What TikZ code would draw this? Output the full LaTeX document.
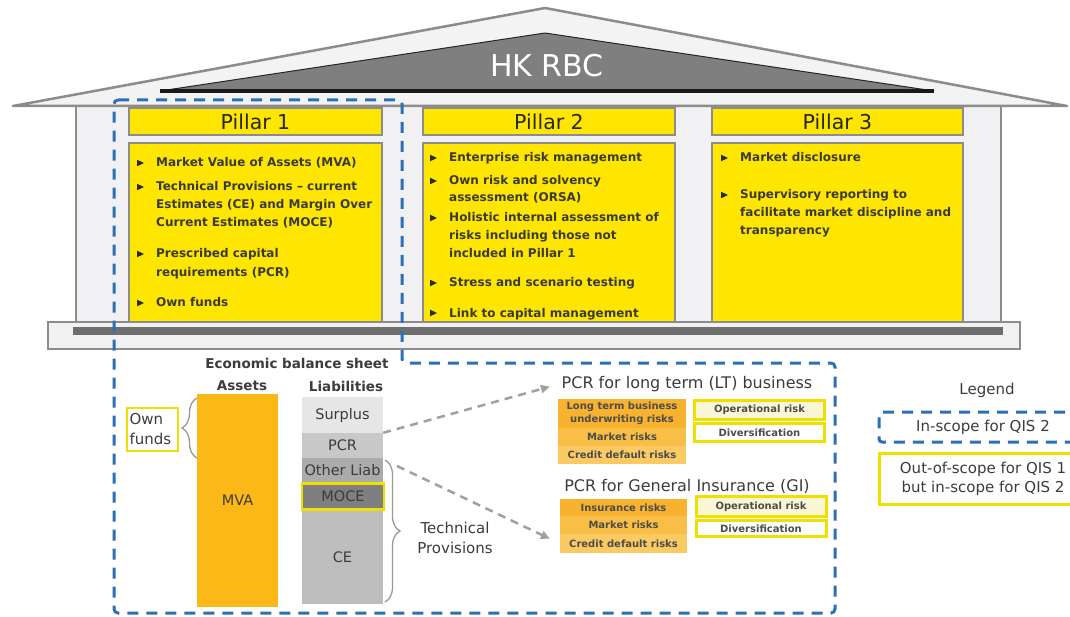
\documentclass[tikz,border=0pt]{standalone}
\usepackage{fontspec}
\setmainfont{DejaVu Sans}
\usetikzlibrary{decorations.pathreplacing,arrows.meta}
\definecolor{roofbg}{HTML}{F3F3F4}
\definecolor{edgegray}{HTML}{8C8C8C}
\definecolor{roofdark}{HTML}{7F7F7F}
\definecolor{bldg}{HTML}{F1F1F3}
\definecolor{bardark}{HTML}{6E6E6E}
\definecolor{eyyellow}{HTML}{FFE600}
\definecolor{ybord}{HTML}{F0E000}
\definecolor{bodytext}{HTML}{3A3A3A}
\definecolor{bulc}{HTML}{2A2A2A}
\definecolor{bluedash}{HTML}{2C6FB4}
\definecolor{mvaor}{HTML}{FBB817}
\definecolor{orA}{HTML}{F7B230}
\definecolor{orB}{HTML}{F9BE45}
\definecolor{orC}{HTML}{FBCA62}
\definecolor{cream}{HTML}{FBF7D6}
\definecolor{gSur}{HTML}{E6E6E6}
\definecolor{gPcr}{HTML}{C8C8C8}
\definecolor{gOth}{HTML}{ABABAB}
\definecolor{gMoce}{HTML}{7F7F7F}
\definecolor{gCe}{HTML}{BDBDBD}
\definecolor{arrgray}{HTML}{A0A0A0}
\definecolor{txtgray}{HTML}{3C3C3C}
\newcommand\pbul[2]{\fill[bulc] ({#1-3},{#2-3.3}) -- ({#1+4},{#2}) -- ({#1-3},{#2+3.3}) -- cycle;}
\tikzset{
  pbox/.style={draw=edgegray, line width=2.5pt, fill=eyyellow, inner sep=0pt},
  phead/.style={pbox, font=\fontsize{20.5}{22}\selectfont, text=black!85},
  ptxt/.style={anchor=base west, inner sep=0pt, font=\bfseries\fontsize{12}{14}\selectfont, text=bodytext},
  bstitle/.style={font=\bfseries\fontsize{13.5}{15}\selectfont, text=txtgray, inner sep=0pt},
  lblock/.style={inner sep=0pt, minimum width=81pt, font=\fontsize{14.5}{16}\selectfont, text=txtgray},
  obox/.style={inner sep=0pt, align=center, font=\bfseries\fontsize{10}{12.5}\selectfont, text=black!70},
  ybox/.style={draw=ybord, line width=3pt, inner sep=0pt, font=\bfseries\fontsize{10}{12}\selectfont, text=black!70},
  ttl/.style={font=\fontsize{16}{18}\selectfont, text=txtgray, inner sep=2pt},
  regtxt/.style={font=\fontsize{15}{20}\selectfont, text=txtgray, align=center, inner sep=0pt},
  bdash/.style={draw=bluedash, line width=3pt, dash pattern=on 11pt off 8pt},
  garrow/.style={draw=arrgray, line width=2.5pt, dash pattern=on 8pt off 6pt, -{Triangle[length=9pt,width=8pt]}},
  bracep/.style={draw=black!40, line width=1.3pt, decorate, decoration={brace, amplitude=15pt}}
}
\begin{document}
\begin{tikzpicture}[x=1pt,y=-1pt]
\useasboundingbox (0,0) rectangle (1070,617);
\clip (0,0) rectangle (1070,617);
\fill[white] (0,0) rectangle (1070,617);

% building body
\filldraw[fill=bldg, draw=edgegray, line width=2pt] (76,106) rectangle (1001,322);
% roof
\filldraw[fill=roofbg, draw=edgegray, line width=2.5pt, line join=round] (13,106) -- (545,8) -- (1067,106) -- cycle;
\fill[roofdark] (160,91) -- (545,33) -- (934,91) -- cycle;
\draw[black!85, line width=1pt, line join=round] (160,91) -- (545,33) -- (934,91);
\draw[black!90, line width=3.5pt] (160,91) -- (934,91);
\node[font=\fontsize{30}{30}\selectfont, text=white, inner sep=0pt] (title) at (547,66) {HK RBC};

% pillars
\node[phead, minimum width=253pt, minimum height=27pt] (h1) at (255.5,121.5) {Pillar 1};
\node[phead, minimum width=252pt, minimum height=27pt] (h2) at (549,121.5) {Pillar 2};
\node[phead, minimum width=251pt, minimum height=27pt] (h3) at (837.5,121.5) {Pillar 3};
\node[pbox, minimum width=253pt, minimum height=181pt] (b1) at (255.5,233.5) {};
\node[pbox, minimum width=252pt, minimum height=181pt] (b2) at (549,233.5) {};
\node[pbox, minimum width=251pt, minimum height=181pt] (b3) at (837.5,233.5) {};

% base
\filldraw[fill=bldg, draw=edgegray, line width=2.5pt] (48,322) rectangle (1020,349);
\fill[bardark] (73,327) rectangle (1003,335);

% pillar 1 text
\pbul{140}{163}\pbul{140}{187}\pbul{140}{254}\pbul{140}{303}
\node[ptxt] (p1a) at (156,167) {Market Value of Assets (MVA)};
\node[ptxt] (p1b) at (156,191) {Technical Provisions – current};
\node[ptxt] (p1c) at (156,208.5) {Estimates (CE) and Margin Over};
\node[ptxt] (p1d) at (156,226.5) {Current Estimates (MOCE)};
\node[ptxt] (p1e) at (156,258) {Prescribed capital};
\node[ptxt] (p1f) at (156,276.5) {requirements (PCR)};
\node[ptxt] (p1g) at (156,307) {Own funds};

% pillar 2 text
\pbul{433}{158}\pbul{433}{181}\pbul{433}{218}\pbul{433}{283}\pbul{433}{313}
\node[ptxt] (p2a) at (449,162) {Enterprise risk management};
\node[ptxt] (p2b) at (449,185) {Own risk and solvency};
\node[ptxt] (p2c) at (449,202) {assessment (ORSA)};
\node[ptxt] (p2d) at (449,222) {Holistic internal assessment of};
\node[ptxt] (p2e) at (449,240) {risks including those not};
\node[ptxt] (p2f) at (449,258) {included in Pillar 1};
\node[ptxt] (p2g) at (449,287) {Stress and scenario testing};
\node[ptxt] (p2h) at (449,317) {Link to capital management};

% pillar 3 text
\pbul{724}{158}\pbul{724}{195}
\node[ptxt] (p3a) at (740,162) {Market disclosure};
\node[ptxt] (p3b) at (740,199) {Supervisory reporting to};
\node[ptxt] (p3c) at (740,217) {facilitate market discipline and};
\node[ptxt] (p3d) at (740,234.5) {transparency};

% economic balance sheet
\node[bstitle] (ebs) at (297,363) {Economic balance sheet};
\node[bstitle] (assets) at (242,386) {Assets};
\node[bstitle] (liab) at (346,386) {Liabilities};
\node[lblock, fill=mvaor, minimum height=213pt] (mva) at (237.5,500.5) {MVA};
\node[lblock, fill=gSur, minimum height=36pt] (surplus) at (342.5,415) {Surplus};
\node[lblock, fill=gPcr, minimum height=25pt] (pcr) at (342.5,445.5) {PCR};
\node[lblock, fill=gOth, minimum height=25pt] (othl) at (342.5,470.5) {Other Liab};
\node[lblock, fill=gCe, minimum height=94pt] (ce) at (342.5,557) {CE};
\node[lblock, fill=gMoce, draw=ybord, line width=2.5pt, minimum width=82pt, minimum height=26pt] (moce) at (343,496.5) {MOCE};

\node[draw=ybord, line width=2.5pt, minimum width=51pt, minimum height=43pt, text width=46pt, align=left, inner sep=2pt, font=\fontsize{15}{20}\selectfont, text=txtgray] (own) at (152.5,429.5) {Own\\funds};

\draw[bracep] (197,458) -- (197,398);
\draw[bracep] (385,460) -- (385,602);
\node[regtxt] (tp) at (455,538) {Technical\\Provisions};

% PCR LT
\node[ttl] (lttitle) at (687,384) {PCR for long term (LT) business};
\node[obox, fill=orA, minimum width=128pt, minimum height=29pt] (lt1) at (622,413.5) {Long term business\\underwriting risks};
\node[obox, fill=orB, minimum width=128pt, minimum height=18pt] (lt2) at (622,437) {Market risks};
\node[obox, fill=orC, minimum width=128pt, minimum height=18pt] (lt3) at (622,455) {Credit default risks};
\node[ybox, fill=cream, minimum width=130pt, minimum height=19pt] (lto) at (759.5,410) {Operational risk};
\node[ybox, fill=white, minimum width=130pt, minimum height=18pt] (ltd) at (759.5,432.5) {Diversification};

% PCR GI
\node[ttl] (gititle) at (687,486) {PCR for General Insurance (GI)};
\node[obox, fill=orA, minimum width=127pt, minimum height=17pt] (gi1) at (623.5,507.5) {Insurance risks};
\node[obox, fill=orB, minimum width=127pt, minimum height=18pt] (gi2) at (623.5,525) {Market risks};
\node[obox, fill=orC, minimum width=127pt, minimum height=19pt] (gi3) at (623.5,543.5) {Credit default risks};
\node[ybox, fill=cream, minimum width=130pt, minimum height=20pt] (gio) at (761,506.5) {Operational risk};
\node[ybox, fill=white, minimum width=130pt, minimum height=16pt] (gid) at (761,528.5) {Diversification};

% dashed arrows
\coordinate (tpstart) at (397,466);
\draw[garrow, shorten >=10pt] (pcr.north east) -- (lttitle.west);
\draw[garrow, shorten >=11pt] (tpstart) -- (gi3.west);

% legend
\node[font=\fontsize{15}{17}\selectfont, text=txtgray] (legtitle) at (987,390) {Legend};
\node[bdash, rounded corners=3pt, minimum width=208pt, minimum height=30pt, font=\fontsize{15}{17}\selectfont, text=txtgray] (lg1) at (983,427) {In-scope for QIS 2};
\node[draw=ybord, line width=3pt, minimum width=208pt, minimum height=51pt, align=center, font=\fontsize{15}{19}\selectfont, text=txtgray] (lg2) at (983,478.5) {Out-of-scope for QIS 1\\but in-scope for QIS 2};

% scope outline
\draw[bdash, rounded corners=4pt] (114,100) -- (402,100) -- (402,363) -- (835,363) -- (835,613) -- (114,613) -- cycle;
\end{tikzpicture}
\end{document}
